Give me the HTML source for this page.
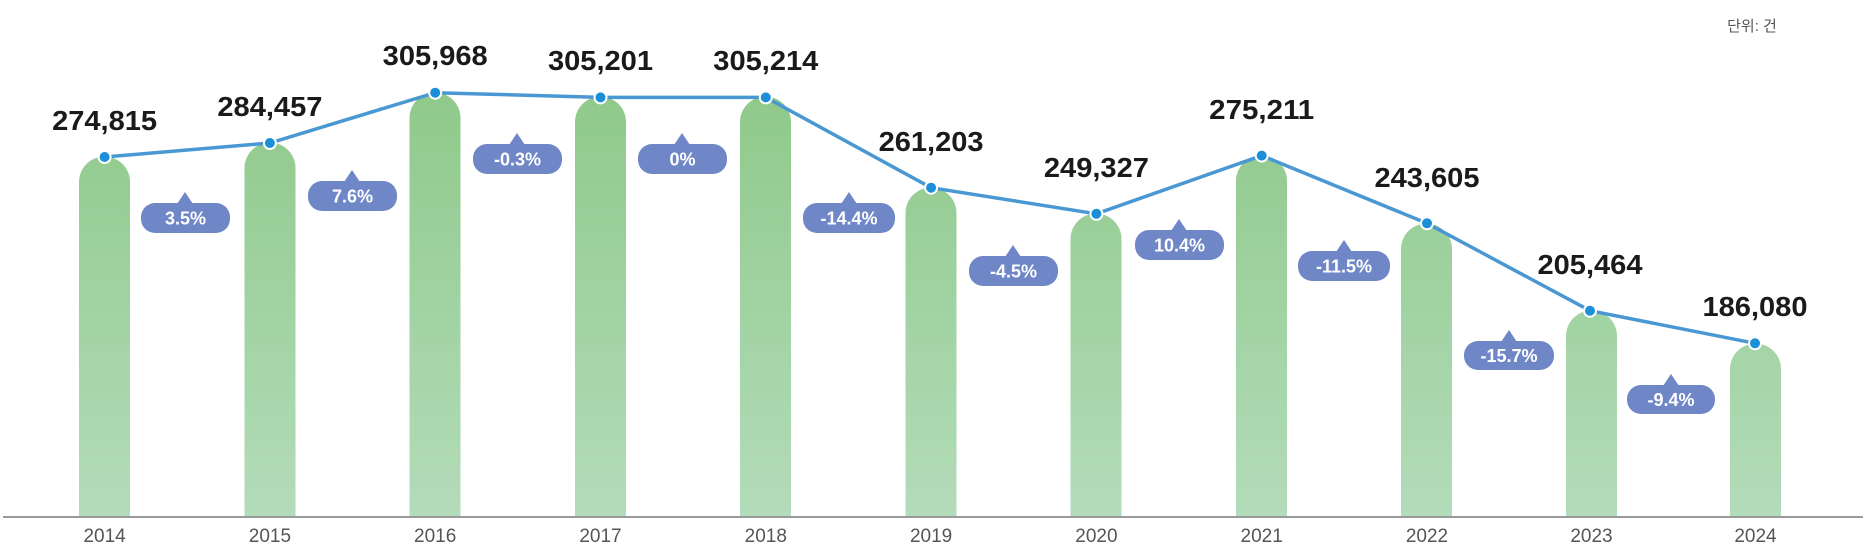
<!DOCTYPE html>
<html><head><meta charset="utf-8"><style>
html,body{margin:0;padding:0;background:#fff;}
svg{display:block}
.v{font-family:"Liberation Sans","Noto Sans CJK KR",sans-serif;font-weight:bold;font-size:28px;fill:#1a1a1a;text-anchor:middle}
.b{font-family:"Liberation Sans",sans-serif;font-weight:bold;font-size:18px;fill:#fff;text-anchor:middle}
.y{font-family:"Liberation Sans",sans-serif;font-size:19px;fill:#555;text-anchor:middle}
</style></head><body>
<svg width="1863" height="553" viewBox="0 0 1863 553" xmlns="http://www.w3.org/2000/svg">
<defs>
<linearGradient id="gb" x1="0" y1="90" x2="0" y2="517" gradientUnits="userSpaceOnUse">
<stop offset="0" stop-color="#8fc98a"/><stop offset="1" stop-color="#b3dcba"/></linearGradient>
</defs>
<text x="1752" y="31" font-family="Liberation Sans,Noto Sans CJK KR,sans-serif" font-size="15" fill="#555" text-anchor="middle">단위: 건</text>
<g fill="url(#gb)">
<path d="M79,517 V182 a25.5,25.5 0 0 1 51,0 V517 Z"/>
<path d="M244.5,517 V168 a25.5,25.5 0 0 1 51,0 V517 Z"/>
<path d="M409.5,517 V118 a25.5,25.5 0 0 1 51,0 V517 Z"/>
<path d="M575,517 V122 a25.5,25.5 0 0 1 51,0 V517 Z"/>
<path d="M740,517 V122 a25.5,25.5 0 0 1 51,0 V517 Z"/>
<path d="M905.5,517 V213 a25.5,25.5 0 0 1 51,0 V517 Z"/>
<path d="M1070.5,517 V239 a25.5,25.5 0 0 1 51,0 V517 Z"/>
<path d="M1236,517 V181 a25.5,25.5 0 0 1 51,0 V517 Z"/>
<path d="M1401,517 V249 a25.5,25.5 0 0 1 51,0 V517 Z"/>
<path d="M1566,517 V336 a25.5,25.5 0 0 1 51,0 V517 Z"/>
<path d="M1730,517 V369 a25.5,25.5 0 0 1 51,0 V517 Z"/>
</g>
<line x1="3" y1="517" x2="1863" y2="517" stroke="#9a9a9a" stroke-width="2"/>
<polyline fill="none" stroke="#4a98d3" stroke-width="3.5" points="104.6,157 269.9,143 435.2,92.7 600.5,97.4 765.8,97.4 931.1,187.7 1096.4,213.8 1261.7,155.6 1427,223.3 1590,310.7 1755,343.3"/>
<g fill="#1b8fd8" stroke="#fff" stroke-width="2">
<circle cx="104.6" cy="157" r="6"/><circle cx="269.9" cy="143" r="6"/><circle cx="435.2" cy="92.7" r="6"/><circle cx="600.5" cy="97.4" r="6"/><circle cx="765.8" cy="97.4" r="6"/><circle cx="931.1" cy="187.7" r="6"/><circle cx="1096.4" cy="213.8" r="6"/><circle cx="1261.7" cy="155.6" r="6"/><circle cx="1427" cy="223.3" r="6"/><circle cx="1590" cy="310.7" r="6"/><circle cx="1755" cy="343.3" r="6"/>
</g>
<text class="v" x="104.6" y="130" textLength="105" lengthAdjust="spacingAndGlyphs">274,815</text>
<text class="v" x="269.9" y="116" textLength="105" lengthAdjust="spacingAndGlyphs">284,457</text>
<text class="v" x="435.2" y="65" textLength="105" lengthAdjust="spacingAndGlyphs">305,968</text>
<text class="v" x="600.5" y="70" textLength="105" lengthAdjust="spacingAndGlyphs">305,201</text>
<text class="v" x="765.8" y="70" textLength="105" lengthAdjust="spacingAndGlyphs">305,214</text>
<text class="v" x="931.1" y="151" textLength="105" lengthAdjust="spacingAndGlyphs">261,203</text>
<text class="v" x="1096.4" y="177" textLength="105" lengthAdjust="spacingAndGlyphs">249,327</text>
<text class="v" x="1261.7" y="119" textLength="105" lengthAdjust="spacingAndGlyphs">275,211</text>
<text class="v" x="1427" y="187" textLength="105" lengthAdjust="spacingAndGlyphs">243,605</text>
<text class="v" x="1590" y="274" textLength="105" lengthAdjust="spacingAndGlyphs">205,464</text>
<text class="v" x="1755" y="316" textLength="105" lengthAdjust="spacingAndGlyphs">186,080</text>
<g fill="#6f87c7">
<rect x="141" y="203" width="89" height="30" rx="14"/><path d="M177,204 L185,192 L193,204Z"/>
<rect x="308" y="181" width="89" height="30" rx="14"/><path d="M344,182 L352,170 L360,182Z"/>
<rect x="473" y="144" width="89" height="30" rx="14"/><path d="M509,145 L517,133 L525,145Z"/>
<rect x="638" y="144" width="89" height="30" rx="14"/><path d="M674,145 L682,133 L690,145Z"/>
<rect x="803" y="203" width="92" height="30" rx="14"/><path d="M841,204 L849,192 L857,204Z"/>
<rect x="969" y="256" width="89" height="30" rx="14"/><path d="M1005,257 L1013,245 L1021,257Z"/>
<rect x="1135" y="230" width="89" height="30" rx="14"/><path d="M1171,231 L1179,219 L1187,231Z"/>
<rect x="1298" y="251" width="92" height="30" rx="14"/><path d="M1336,252 L1344,240 L1352,252Z"/>
<rect x="1464" y="341" width="90" height="29" rx="14"/><path d="M1501,342 L1509,330 L1517,342Z"/>
<rect x="1627" y="385" width="88" height="29" rx="14"/><path d="M1663,386 L1671,374 L1679,386Z"/>
</g>
<text class="b" x="185.5" y="224.5">3.5%</text>
<text class="b" x="352.5" y="202.5">7.6%</text>
<text class="b" x="517.5" y="165.5">-0.3%</text>
<text class="b" x="682.5" y="165.5">0%</text>
<text class="b" x="849" y="224.5">-14.4%</text>
<text class="b" x="1013.5" y="277.5">-4.5%</text>
<text class="b" x="1179.5" y="251.5">10.4%</text>
<text class="b" x="1344" y="272.5">-11.5%</text>
<text class="b" x="1509" y="362">-15.7%</text>
<text class="b" x="1671" y="406">-9.4%</text>
<text class="y" x="104.6" y="542">2014</text>
<text class="y" x="269.9" y="542">2015</text>
<text class="y" x="435.2" y="542">2016</text>
<text class="y" x="600.5" y="542">2017</text>
<text class="y" x="765.8" y="542">2018</text>
<text class="y" x="931.1" y="542">2019</text>
<text class="y" x="1096.4" y="542">2020</text>
<text class="y" x="1261.7" y="542">2021</text>
<text class="y" x="1427" y="542">2022</text>
<text class="y" x="1591.5" y="542">2023</text>
<text class="y" x="1755.5" y="542">2024</text>
</svg>
</body></html>
